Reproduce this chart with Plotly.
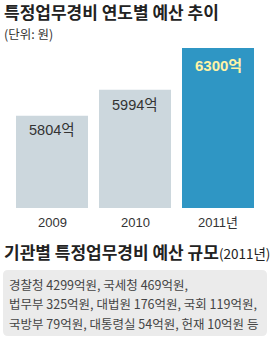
import plotly.graph_objects as go

years = ["2009", "2010", "2011년"]
budgets = [5804, 5994, 6300]
bar_labels = ["5804억", "5994억", "6300억"]
bar_colors = ["#ccd7dd", "#ccd7dd", "#2f96c4"]
label_colors = ["#333333", "#333333", "#fff3a6"]

title1 = "특정업무경비 연도별 예산 추이"
unit_text = "(단위: 원)"
title2 = "기관별 특정업무경비 예산 규모"
title2_suffix = "(2011년)"
box_lines = [
    "경찰청 4299억원, 국세청 469억원,",
    "법무부 325억원, 대법원 176억원, 국회 119억원,",
    "국방부 79억원, 대통령실 54억원, 헌재 10억원 등",
]

FONT = "Noto Sans CJK KR"
MIX = "Liberation Sans, Noto Sans CJK KR"

fig = go.Figure(go.Bar(
    x=list(range(len(years))), y=budgets,
    marker=dict(color=bar_colors, line=dict(width=0)),
    hoverinfo="skip",
))

W, H = 270, 338
L, R, T, B = 16, 16, 48, 130
PW, PH = W - L - R, H - T - B
fig.update_layout(
    width=W, height=H,
    margin=dict(l=L, r=R, t=T, b=B),
    paper_bgcolor="white", plot_bgcolor="white",
    bargap=0.1325,
    showlegend=False,
    font=dict(family=FONT, color="#333333"),
    xaxis=dict(range=[-0.4337, 2.4337], showgrid=False, zeroline=False,
               showticklabels=False, showline=False, fixedrange=True),
    yaxis=dict(range=[5130, 6300], showgrid=False, zeroline=False,
               showticklabels=False, showline=False, fixedrange=True),
)

def PX(x):
    return (x - L) / PW

def PY(y):
    return 1 - (y - T) / PH

anns = []
shifts = [-14, -15, -17]
for i, (v, lab) in enumerate(zip(budgets, bar_labels)):
    txt = lab if i < 2 else "<b>" + lab + "</b>"
    anns.append(dict(x=i, y=v, xref="x", yref="y", text=txt, showarrow=False,
                     yshift=shifts[i], yanchor="middle",
                     font=dict(size=14.5 if i < 2 else 15, color=label_colors[i],
                               family=MIX),
                     ))
    anns.append(dict(x=i, y=5130, xref="x", yref="y", text=years[i], showarrow=False,
                     yshift=-14, yanchor="middle",
                     font=dict(size=13, color="#333333", family=MIX)))

def px(x, y, **kw):
    d = dict(x=PX(x), y=PY(y), xref="paper", yref="paper", showarrow=False,
             xanchor="left", yanchor="middle")
    d.update(kw)
    return d

anns.append(px(2, 11.5, text="<b>" + title1 + "</b>", font=dict(size=17, color="#222222", family=FONT)))
anns.append(px(2, 33, text=unit_text, font=dict(size=12.5, color="#333333", family=FONT)))
anns.append(px(2, 251, text="<b>" + title2 + "</b><span style='font-size:13.5px'>" + title2_suffix + "</span>",
               font=dict(size=17, color="#222222", family=FONT)))
for j, line in enumerate(box_lines):
    anns.append(px(7, 284 + j * 19.5, text=line, font=dict(size=12.5, color="#444444", family=FONT)))

fig.update_layout(annotations=anns)

# rounded gray box
x0, y0, x1, y1, r = PX(3), PY(270), PX(267), PY(336), 5
rx, ry = r / PW, r / PH
path = (f"M {x0+rx},{y0} L {x1-rx},{y0} Q {x1},{y0} {x1},{y0-ry} "
        f"L {x1},{y1+ry} Q {x1},{y1} {x1-rx},{y1} L {x0+rx},{y1} "
        f"Q {x0},{y1} {x0},{y1+ry} L {x0},{y0-ry} Q {x0},{y0} {x0+rx},{y0} Z")
fig.add_shape(type="path", path=path, xref="paper", yref="paper",
              fillcolor="#ebebeb", line=dict(width=0), layer="below")

fig.write_html("out.html", config={"displayModeBar": False})
